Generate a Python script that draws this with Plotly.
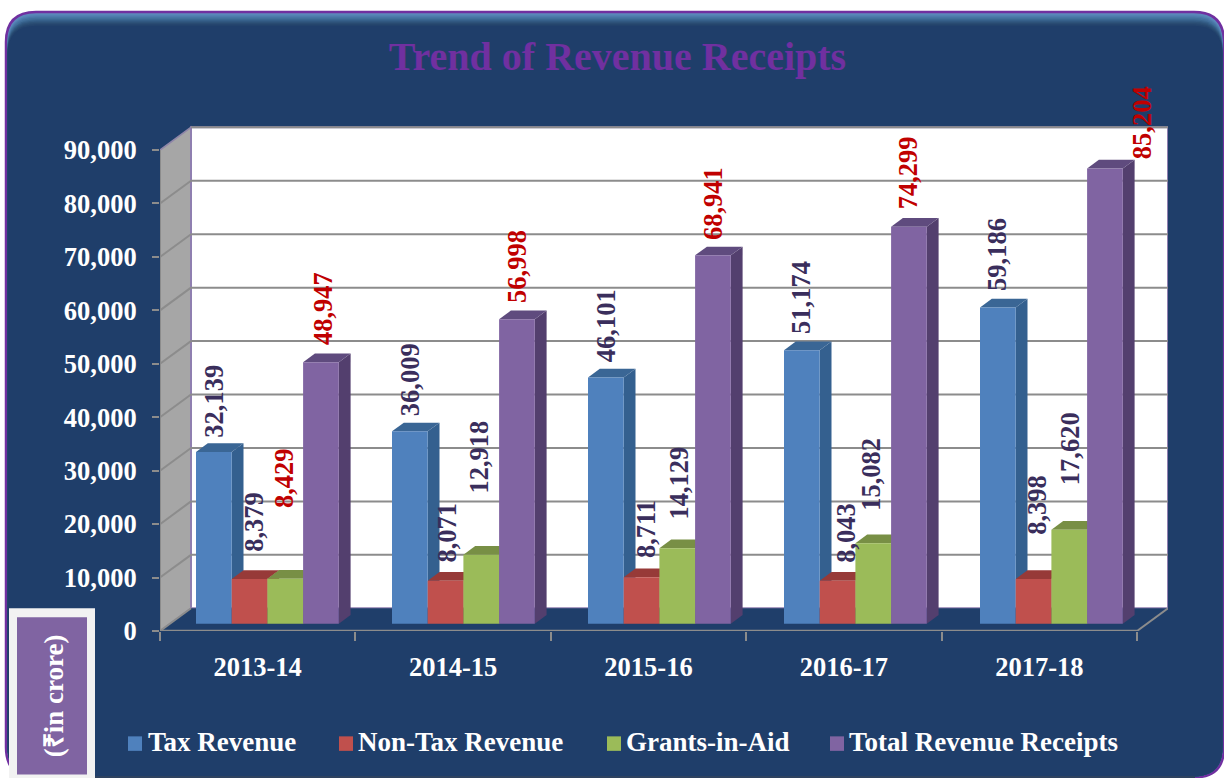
import plotly.graph_objects as go

# ---------- data ----------
years = ["2013-14", "2014-15", "2015-16", "2016-17", "2017-18"]
tax_revenue = [32139, 36009, 46101, 51174, 59186]
non_tax_revenue = [8379, 8071, 8711, 8043, 8398]
grants_in_aid = [8429, 12918, 14129, 15082, 17620]
total_receipts = [48947, 56998, 68941, 74299, 85204]
series_names = ["Tax Revenue", "Non-Tax Revenue", "Grants-in-Aid", "Total Revenue Receipts"]
y_ticks = [0, 10000, 20000, 30000, 40000, 50000, 60000, 70000, 80000, 90000]

# ---------- label placement (px above each bar's top face, px right of bar centre) ----------
lift_tax = [4, 4.8, 4.9, 5.5, 5.7]
lift_non_tax = [16, 7, 8, 6.8, 33]
lift_grants = [59.7, 50.8, 18.3, 22, 33.7]
lift_total = [6.4, 5.5, 4.6, 6.7, -1]
nudge_tax = [0.5, 1.5, 0.5, -1, -1]
nudge_non_tax = [5.5, 1.5, 4.5, 9.5, 4.5]
nudge_grants = [0, -2, 2, -2, 0.7]
nudge_total = [2, 1, 0, -1, 37.5]

# ---------- style ----------
FONT = "Liberation Serif"
BG = "#1F3E6A"
front = ["#4F81BD", "#C0504D", "#9BBB59", "#8064A2"]
side = ["#34608F", "#8F3B39", "#748D43", "#533F6E"]
top = ["#3A6695", "#973A38", "#788F45", "#5F4B7E"]
DARK = "#3A2E5C"
RED = "#C00000"
label_col = [DARK, DARK, DARK, RED]
label_col_grants = [RED, DARK, DARK, DARK, DARK]

W, H = 1224, 778
L, R, T, B = 160, 56, 110, 147.3
PX_X = 195.4                 # pixels per category
PX_Y = 53.41 / 10000         # pixels per revenue unit
plot_w, plot_h = W - L - R, H - T - B
x_max = plot_w / PX_X
y_max = plot_h / PX_Y


def px(x):
    return (x - L) / plot_w


def py(y):
    return 1 - (y - T) / plot_h


def dx(p):
    return p / PX_X


def dy(p):
    return p / PX_Y


WALL_X, WALL_Y = dx(31), dy(22.7)
BAR_DX, BAR_DY = dx(11.8), dy(8.7)
BAR_W = dx(35.7)
GROUP_START = dx(36)
GROUP_STEP = dx(196)
BAR_BASE = dy(7.2)

shapes = []


def paper_round(x0, y0, x1, y1, r, fill, line=None, lw=0):
    d = (f"M{px(x0)},{py(y0 + r)} Q{px(x0)},{py(y0)} {px(x0 + r)},{py(y0)} "
         f"L{px(x1 - r)},{py(y0)} Q{px(x1)},{py(y0)} {px(x1)},{py(y0 + r)} "
         f"L{px(x1)},{py(y1 - r)} Q{px(x1)},{py(y1)} {px(x1 - r)},{py(y1)} "
         f"L{px(x0 + r)},{py(y1)} Q{px(x0)},{py(y1)} {px(x0)},{py(y1 - r)} Z")
    shapes.append(dict(type="path", xref="paper", yref="paper", path=d, layer="below",
                       fillcolor=fill, line=dict(color=line or fill, width=lw)))


def paper_rect(x0, y0, x1, y1, fill):
    shapes.append(dict(type="rect", xref="paper", yref="paper", layer="below",
                       x0=px(x0), x1=px(x1), y0=py(y1), y1=py(y0),
                       fillcolor=fill, line=dict(width=0)))


def poly(points, fill, line=None, lw=0):
    d = "M" + " L".join(f"{a},{b}" for a, b in points) + " Z"
    shapes.append(dict(type="path", xref="x", yref="y", path=d, layer="below",
                       fillcolor=fill, line=dict(color=line or fill, width=lw)))


def seg(x0, y0, x1, y1, color, lw=2):
    shapes.append(dict(type="line", xref="x", yref="y", layer="below",
                       x0=x0, y0=y0, x1=x1, y1=y1, line=dict(color=color, width=lw)))


# panel with glossy top edge
paper_round(6, 12, 1224, 777, 30, "#5F8ABD", "#7030A0", 2.5)
gloss = ["#5987B9", "#5280B1", "#4A77A7", "#42709C", "#3A6690", "#335B84",
         "#2D5279", "#294B72", "#24446D", BG]
for k, c in enumerate(gloss):
    paper_round(7.5, 14 + k * 1.3, 1222.5, 776, 29, c)
paper_rect(30, 775.5, 1195, 778, "#2E425F")

# unit box
paper_rect(9, 608, 95, 778, "#F2F2F2")
paper_rect(17, 617, 87, 774, "#8064A2")

# walls and floor
front_w = len(years)
poly([(0, 0), (WALL_X, WALL_Y), (WALL_X, 90000 + WALL_Y), (0, 90000)], "#A6A6A6", "#8F86A8", 1.5)
poly([(WALL_X, WALL_Y), (front_w + WALL_X, WALL_Y), (front_w + WALL_X, 90000 + WALL_Y),
      (WALL_X, 90000 + WALL_Y)], "#FFFFFF", "#8F7FB0", 2)
for t in y_ticks[1:-1]:
    seg(0, t, WALL_X, t + WALL_Y, "#8C8C8C")
    seg(WALL_X, t + WALL_Y, front_w + WALL_X, t + WALL_Y, "#8C8C8C")
seg(WALL_X, 90000 + WALL_Y, front_w + WALL_X, 90000 + WALL_Y, "#8C8C8C")
poly([(0, 0), (front_w, 0), (front_w + WALL_X, WALL_Y), (WALL_X, WALL_Y)], BG)
seg(0, 0, front_w, 0, "#8C8C8C", 2.5)
seg(front_w, 0, front_w + WALL_X, WALL_Y, "#8C8C8C")
seg(0, 0, WALL_X, WALL_Y, "#8C8C8C")
seg(0, 0, 0, 90000, "#8C8C8C")

all_values = [tax_revenue, non_tax_revenue, grants_in_aid, total_receipts]
all_lifts = [lift_tax, lift_non_tax, lift_grants, lift_total]
all_nudges = [nudge_tax, nudge_non_tax, nudge_grants, nudge_total]

fig = go.Figure()
annotations = []
for s, (name, vals, lifts, nudges) in enumerate(zip(series_names, all_values, all_lifts, all_nudges)):
    centers = [g * GROUP_STEP + GROUP_START + (s + 0.5) * BAR_W for g in range(len(years))]
    fig.add_trace(go.Bar(x=centers, y=vals, base=BAR_BASE, width=BAR_W, name=name,
                         marker=dict(color=front[s], line=dict(width=0)),
                         showlegend=False))
    for g, v in enumerate(vals):
        c = centers[g]
        t = v + BAR_BASE
        x0, x1 = c - BAR_W / 2, c + BAR_W / 2
        poly([(x1, BAR_BASE), (x1 + BAR_DX, BAR_BASE + BAR_DY), (x1 + BAR_DX, t + BAR_DY), (x1, t)], side[s])
        poly([(x0, t), (x1, t), (x1 + BAR_DX, t + BAR_DY), (x0 + BAR_DX, t + BAR_DY)], top[s])
        color = label_col_grants[g] if s == 2 else label_col[s]
        annotations.append(dict(x=c, y=t, xref="x", yref="y", text=f"<b>{v:,}</b>", textangle=-90,
                                showarrow=False, yanchor="bottom", xanchor="center",
                                xshift=nudges[g] - 0.5, yshift=lifts[g] + 8.7,
                                font=dict(family=FONT, size=26.5, color=color)))

# legend
legend_swatch_x = [128, 339, 607, 830]
legend_text_x = [145.5, 356, 623.5, 847]
for s, name in enumerate(series_names):
    paper_rect(legend_swatch_x[s], 736, legend_swatch_x[s] + 14, 750.5, front[s])
    annotations.append(dict(x=px(legend_text_x[s]), y=py(741.5), xref="paper", yref="paper",
                            text=f"<b>{name}</b>", showarrow=False, xanchor="left", yanchor="middle",
                            font=dict(family=FONT, size=27, color="#FFFFFF")))

annotations.append(dict(x=px(54), y=py(696), xref="paper", yref="paper", text="<b>(₹in crore)</b>",
                        textangle=-90, showarrow=False, xanchor="center", yanchor="middle",
                        font=dict(family=FONT, size=27, color="#FFFFFF")))

fig.update_layout(
    width=W, height=H, autosize=False,
    margin=dict(l=L, r=R, t=T, b=B, pad=0),
    paper_bgcolor="#FFFFFF", plot_bgcolor="rgba(0,0,0,0)",
    title=dict(text="<b>Trend of Revenue Receipts</b>", xref="paper", yref="container",
               x=px(617.5), y=1 - 56 / H, xanchor="center", yanchor="middle",
               font=dict(family=FONT, size=40, color="#7030A0")),
    showlegend=False, barmode="overlay", shapes=shapes, annotations=annotations,
    xaxis=dict(range=[0, x_max], tickmode="array",
               tickvals=[i + 0.5 for i in range(len(years))], ticktext=[f"<b>{y}</b>" for y in years],
               ticks="", ticklabelstandoff=17, showgrid=False, zeroline=False, showline=False,
               tickfont=dict(family=FONT, size=26.5, color="#FFFFFF"),
               minor=dict(tickmode="array", tickvals=list(range(len(years) + 1)), ticks="outside",
                          ticklen=9, tickwidth=2, tickcolor="#8C8C8C", showgrid=False)),
    yaxis=dict(range=[0, y_max], tickmode="array", tickvals=y_ticks,
               ticktext=[f"<b>{v:,}</b>" for v in y_ticks],
               ticks="outside", ticklen=7, tickwidth=2, tickcolor="#8C8C8C",
               ticklabelstandoff=10, showgrid=False, zeroline=False, showline=False,
               tickfont=dict(family=FONT, size=26.5, color="#FFFFFF")),
)

fig.write_html("out.html", config={"displayModeBar": False},
               post_script="document.body.style.margin='0';document.body.style.overflow='hidden';")
